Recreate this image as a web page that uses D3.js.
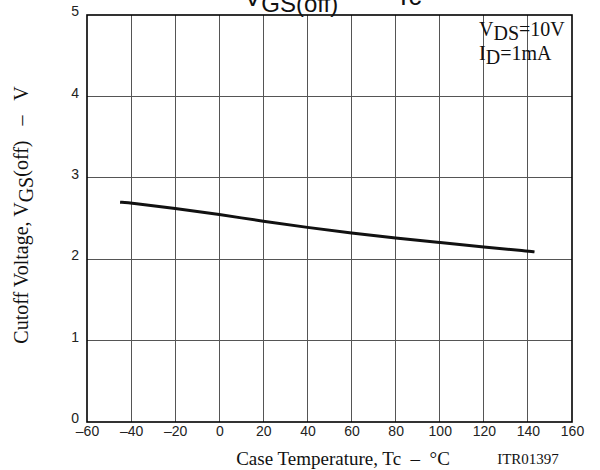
<!DOCTYPE html>
<html><head><meta charset="utf-8">
<script src="https://cdn.jsdelivr.net/npm/d3@7"></script>
<style>body{margin:0;background:#fff} text{white-space:pre}</style>
</head><body>
<script>
const tempC = [-45, -40, -20, 0, 20, 40, 60, 80, 100, 120, 140, 143];
const vgsOff = [2.70, 2.69, 2.625, 2.55, 2.465, 2.39, 2.32, 2.26, 2.205, 2.15, 2.10, 2.09];
const xTicks = [-60, -40, -20, 0, 20, 40, 60, 80, 100, 120, 140, 160];
const yTicks = [0, 1, 2, 3, 4, 5];

const W = 600, H = 470;
const m = {l: 87, r: 28, t: 15, b: 48};
const svg = d3.select("body").append("svg").attr("width", W).attr("height", H);
const x = d3.scaleLinear().domain([-60, 160]).range([m.l, W - m.r]);
const y = d3.scaleLinear().domain([0, 5]).range([H - m.b, m.t]);

// grid
svg.append("g").selectAll("line").data(xTicks.slice(1, -1)).join("line")
  .attr("x1", d => x(d)).attr("x2", d => x(d)).attr("y1", y(0)).attr("y2", y(5))
  .attr("stroke", "#555").attr("stroke-width", 1).attr("shape-rendering", "crispEdges");
svg.append("g").selectAll("line").data(yTicks.slice(1, -1)).join("line")
  .attr("y1", d => y(d)).attr("y2", d => y(d)).attr("x1", x(-60)).attr("x2", x(160))
  .attr("stroke", "#555").attr("stroke-width", 1).attr("shape-rendering", "crispEdges");

// axes (labels only)
const xa = svg.append("g").attr("transform", `translate(0,${y(0)})`)
  .call(d3.axisBottom(x).tickValues(xTicks).tickSize(0).tickPadding(4).tickFormat(d => d < 0 ? "\u2013" + (-d) : String(d)));
const ya = svg.append("g").attr("transform", `translate(${x(-60)},0)`)
  .call(d3.axisLeft(y).tickValues(yTicks).tickSize(0).tickPadding(8).tickFormat(d3.format("d")));
[xa, ya].forEach(a => {
  a.select(".domain").remove();
  a.selectAll("text").attr("font-family", "Liberation Sans, Arial, sans-serif").attr("font-size", 14).attr("fill", "#222");
});
ya.selectAll("text").attr("dy", "0.05em");

// frame
svg.append("rect").attr("x", x(-60)).attr("y", y(5)).attr("width", x(160) - x(-60)).attr("height", y(0) - y(5))
  .attr("fill", "none").attr("stroke", "#000").attr("stroke-width", 1.6);

// curve
svg.append("path").datum(tempC.map((t, i) => [t, vgsOff[i]]))
  .attr("d", d3.line().x(d => x(d[0])).y(d => y(d[1])).curve(d3.curveBasis))
  .attr("fill", "none").attr("stroke", "#111").attr("stroke-width", 3);

// title (clipped at top, as in the reference)
const title = svg.append("text").attr("x", 244).attr("y", 6)
  .attr("font-family", "Liberation Sans, Arial, sans-serif").attr("font-size", 26).attr("fill", "#111");
title.append("tspan").text("V");
title.append("tspan").attr("dy", 6).attr("font-size", 24).text("GS(off)");
title.append("tspan").attr("dy", -7).text("   \u2013   Tc");

// annotation
const serif = "Liberation Serif, Times New Roman, serif";
const a1 = svg.append("text").attr("x", 479).attr("y", 36).attr("font-family", serif).attr("font-size", 20).attr("fill", "#111");
a1.append("tspan").text("V");
a1.append("tspan").attr("dy", 4).text("DS");
a1.append("tspan").attr("dy", -4).text("=10V");
const a2 = svg.append("text").attr("x", 479).attr("y", 60).attr("font-family", serif).attr("font-size", 20).attr("fill", "#111");
a2.append("tspan").text("I");
a2.append("tspan").attr("dy", 4).text("D");
a2.append("tspan").attr("dy", -4).text("=1mA");

// axis titles
svg.append("text").attr("x", 343).attr("y", 465).attr("text-anchor", "middle")
  .attr("font-family", serif).attr("font-size", 19).attr("fill", "#111")
  .text("Case Temperature, Tc  \u2013  \u00B0C");
svg.append("text").attr("x", 528).attr("y", 464).attr("text-anchor", "middle")
  .attr("font-family", serif).attr("font-size", 15).attr("fill", "#111").text("ITR01397");
const yl = svg.append("text").attr("transform", "translate(28,215) rotate(-90)").attr("text-anchor", "middle")
  .attr("font-family", serif).attr("font-size", 20).attr("fill", "#111");
yl.append("tspan").text("Cutoff Voltage, V");
yl.append("tspan").attr("dy", 5).text("GS");
yl.append("tspan").attr("dy", -5).text("(off)   \u2013   V");
</script>
</body></html>
